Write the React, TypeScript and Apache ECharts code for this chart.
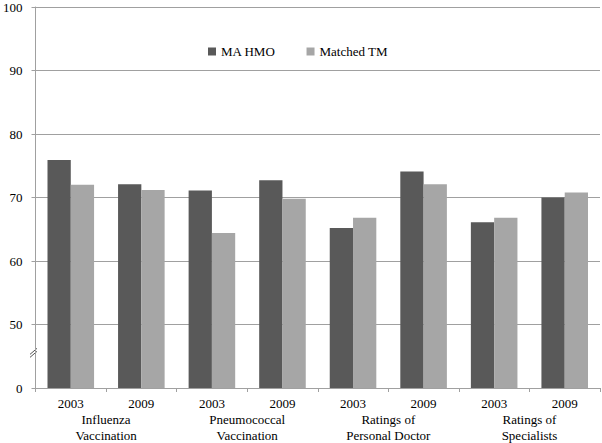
import React, { useEffect, useRef } from "react";
import * as echarts from "echarts";

const years = ["2003", "2009", "2003", "2009", "2003", "2009", "2003", "2009"];
const groups = ["Influenza\nVaccination", "Pneumococcal\nVaccination", "Ratings of\nPersonal Doctor", "Ratings of\nSpecialists"];
const maHmo = [75.9, 72.1, 71.1, 72.7, 65.2, 74.1, 66.1, 70.0];
const matchedTm = [72.0, 71.2, 64.4, 69.8, 66.8, 72.1, 66.8, 70.8];
const yTicks = [40, 50, 60, 70, 80, 90, 100];

const FONT = "'Liberation Serif', serif";

export default function App() {
  const ref = useRef<HTMLDivElement>(null);
  useEffect(() => {
    if (!ref.current) return;
    const chart = echarts.init(ref.current, null, { renderer: "svg" });
    chart.setOption({
      animation: false,
      textStyle: { fontFamily: FONT },
      legend: {
        top: 40,
        left: 203,
        itemWidth: 8,
        itemHeight: 8,
        itemGap: 31,
        icon: "rect",
        textStyle: { fontFamily: FONT, fontSize: 13, color: "#000" },
        data: ["MA HMO", "Matched TM"],
      },
      grid: { left: 34, right: 2, top: 7, bottom: 55, containLabel: false },
      xAxis: [
        {
          type: "category",
          data: years,
          position: "bottom",
          axisLine: { lineStyle: { color: "#a0a0a0", width: 1 } },
          axisTick: { show: true, length: 4, lineStyle: { color: "#a0a0a0" } },
          axisLabel: { color: "#000", fontSize: 13, fontFamily: FONT, margin: 9 },
        },
        {
          type: "category",
          data: groups,
          position: "bottom",
          axisLine: { show: false },
          axisTick: { show: false },
          axisLabel: { color: "#000", fontSize: 13, fontFamily: FONT, margin: 23, lineHeight: 16 },
        },
      ],
      yAxis: {
        type: "value",
        min: 40,
        max: 100,
        interval: 10,
        axisLine: { show: true, lineStyle: { color: "#a0a0a0" } },
        axisTick: { show: true, length: 4, lineStyle: { color: "#a0a0a0" } },
        splitLine: { show: true, lineStyle: { color: "#a0a0a0", width: 1 } },
        axisLabel: {
          color: "#000",
          fontSize: 13,
          fontFamily: FONT,
          margin: 13,
          formatter: (v: number) => (v === yTicks[0] ? "0" : String(v)),
        },
      },
      series: [
        {
          name: "MA HMO",
          type: "bar",
          data: maHmo,
          barGap: "0%",
          barCategoryGap: "34%",
          itemStyle: { color: "#595959" },
        },
        {
          name: "Matched TM",
          type: "bar",
          data: matchedTm,
          barGap: "0%",
          barCategoryGap: "34%",
          itemStyle: { color: "#a6a6a6" },
        },
      ],
    });
    const p = chart.convertToPixel({ gridIndex: 0 }, [0, 45.3]) as number[];
    const axisX = 34;
    const by = p[1];
    chart.setOption({
      graphic: [
        { type: "rect", shape: { x: axisX - 5, y: by - 5, width: 10, height: 9 }, style: { fill: "#fff" } },
        { type: "line", shape: { x1: axisX - 4, y1: by, x2: axisX + 3, y2: by - 6 }, style: { stroke: "#555", lineWidth: 1 } },
        { type: "line", shape: { x1: axisX - 4, y1: by + 3, x2: axisX + 3, y2: by - 3 }, style: { stroke: "#555", lineWidth: 1 } },
      ],
    });
    return () => chart.dispose();
  }, []);
  return <div ref={ref} style={{ position: "fixed", left: 0, top: 0, width: 602, height: 443, background: "#fff" }} />;
}
